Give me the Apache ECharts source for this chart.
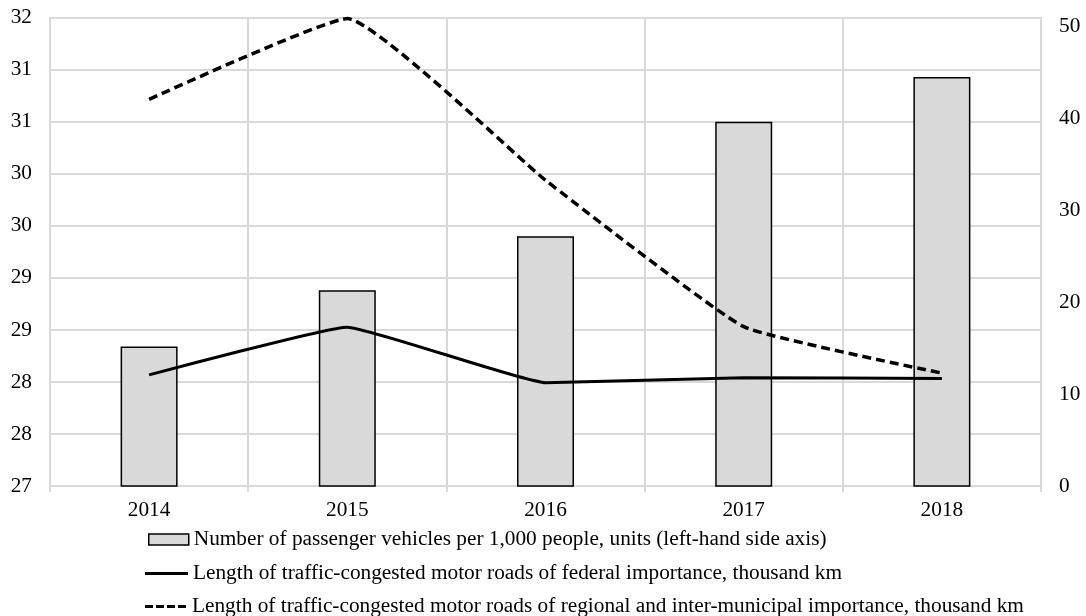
<!DOCTYPE html>
<html>
<head>
<meta charset="utf-8">
<script src="https://cdn.jsdelivr.net/npm/echarts@6/dist/echarts.min.js"></script>
<style>html,body{margin:0;padding:0;background:#fff}#c{width:1086px;height:616px}</style>
</head>
<body>
<div id="c"></div>
<script>
const years = ['2014', '2015', '2016', '2017', '2018'];
const vehicles = [28.34, 28.88, 29.40, 30.50, 30.93];
const federal = [12.1, 17.3, 11.25, 11.8, 11.7];
const regional = [42.1, 50.9, 33.3, 17.35, 12.3];
const names = [
  'Number of passenger vehicles per 1,000 people, units (left-hand side axis)',
  'Length of traffic-congested motor roads of federal importance, thousand km',
  'Length of traffic-congested motor roads of regional and inter-municipal importance, thousand km'
];

const font = '"Liberation Serif", "Times New Roman", serif';
const FS = 21.3;
const legendText = {fontFamily: font, fontSize: FS, color: '#000'};
const chart = echarts.init(document.getElementById('c'), null, {renderer: 'canvas'});
chart.setOption({
  animation: false,
  backgroundColor: '#fff',
  textStyle: {fontFamily: font, color: '#000'},
  grid: {left: 50, right: 45, top: 17.7, height: 468.3, containLabel: false},
  legend: [
    {
      left: 143, top: 524, itemWidth: 40, itemHeight: 11, itemGap: 0,
      textStyle: legendText, selectedMode: false,
      data: [{name: names[0], icon: 'rect', itemStyle: {color: '#d9d9d9', borderColor: '#000', borderWidth: 1.5}}]
    },
    {
      left: 140, top: 558, itemWidth: 43, itemHeight: 3, itemGap: 0,
      textStyle: legendText, selectedMode: false,
      data: [{name: names[1], icon: 'path://M0,0H43V3H0Z', itemStyle: {color: '#000'}}]
    },
    {
      left: 140, top: 591, itemWidth: 43, itemHeight: 3, itemGap: 0,
      textStyle: legendText, selectedMode: false,
      data: [{name: names[2], icon: 'path://M0,0h8v3h-8zM11,0h8v3h-8zM22,0h8v3h-8zM33,0h8v3h-8z', itemStyle: {color: '#000'}}]
    }
  ],
  xAxis: {
    type: 'category',
    data: years,
    boundaryGap: true,
    axisLine: {lineStyle: {color: '#d9d9d9', width: 2}},
    axisTick: {show: true, length: 6, lineStyle: {color: '#d9d9d9', width: 2}},
    axisLabel: {fontFamily: font, fontSize: FS, color: '#000', margin: 14},
    splitLine: {show: true, lineStyle: {color: '#d9d9d9', width: 2}}
  },
  yAxis: [
    {
      type: 'value', min: 27, max: 31.5, interval: 0.5,
      axisLine: {show: true, lineStyle: {color: '#d9d9d9', width: 2}},
      axisTick: {show: false},
      axisLabel: {fontFamily: font, fontSize: FS, color: '#000', margin: 18,
        formatter: v => String(Math.round(v))},
      splitLine: {show: true, lineStyle: {color: '#d9d9d9', width: 2}}
    },
    {
      type: 'value', min: 0, max: 51, interval: 10,
      axisLine: {show: true, lineStyle: {color: '#d9d9d9', width: 2}},
      axisTick: {show: false},
      axisLabel: {fontFamily: font, fontSize: FS, color: '#000', margin: 18, showMaxLabel: false},
      splitLine: {show: false}
    }
  ],
  series: [
    {
      name: names[0], type: 'bar', yAxisIndex: 0, data: vehicles, barWidth: 57,
      itemStyle: {color: '#d9d9d9', borderColor: '#000', borderWidth: 1.5}
    },
    {
      name: names[1], type: 'line', yAxisIndex: 1, data: federal, symbol: 'none', smooth: 0.1,
      lineStyle: {color: '#000', width: 3}, itemStyle: {color: '#000'}
    },
    {
      name: names[2], type: 'line', yAxisIndex: 1, data: regional, symbol: 'none', smooth: 0.12,
      lineStyle: {color: '#000', width: 3.5, type: [9, 5]}, itemStyle: {color: '#000'}
    }
  ]
});
</script>
</body>
</html>
